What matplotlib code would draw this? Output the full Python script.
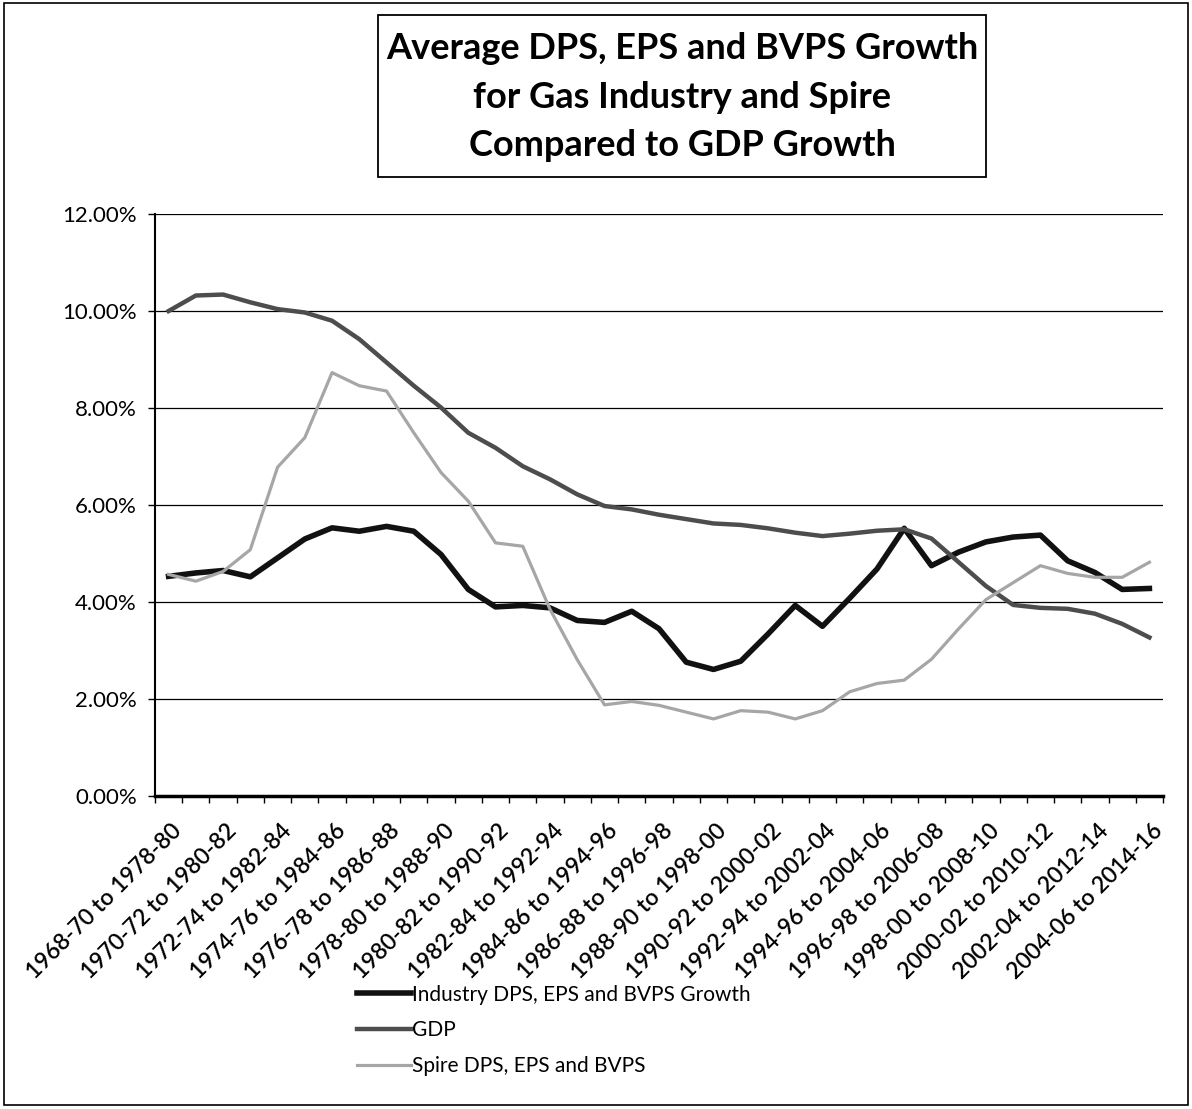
import numpy as np
import matplotlib
matplotlib.use('Agg')
import matplotlib.pyplot as plt
from matplotlib.patches import Rectangle

# 10年平均の期間ラベル（1968-70 to 1978-80 ... 2004-06 to 2014-16）
start_years = list(range(1968, 2005))
periods = [f"{y}-{(y + 2) % 100:02d} to {y + 10}-{(y + 12) % 100:02d}" for y in start_years]

industry = [4.53, 4.60, 4.65, 4.52, 4.91, 5.30, 5.53, 5.46, 5.56, 5.46,
            4.98, 4.26, 3.90, 3.93, 3.88, 3.62, 3.58, 3.81, 3.45, 2.76,
            2.61, 2.78, 3.34, 3.93, 3.50, 4.08, 4.68, 5.52, 4.75, 5.03,
            5.24, 5.34, 5.38, 4.85, 4.61, 4.26, 4.28]

gdp = [10.00, 10.32, 10.34, 10.18, 10.04, 9.97, 9.80, 9.42, 8.94, 8.46,
       8.01, 7.49, 7.18, 6.80, 6.53, 6.22, 5.98, 5.91, 5.80, 5.71,
       5.62, 5.59, 5.52, 5.43, 5.36, 5.41, 5.47, 5.50, 5.31, 4.82,
       4.33, 3.94, 3.88, 3.86, 3.76, 3.55, 3.27]

spire = [4.57, 4.43, 4.63, 5.08, 6.78, 7.39, 8.73, 8.46, 8.35, 7.49,
         6.67, 6.08, 5.22, 5.15, 3.85, 2.81, 1.88, 1.95, 1.87, 1.73,
         1.59, 1.76, 1.73, 1.59, 1.76, 2.15, 2.32, 2.39, 2.82, 3.45,
         4.05, 4.40, 4.75, 4.59, 4.51, 4.51, 4.82]

FONT = 'Lato'


def main():
    fig = plt.figure(figsize=(11.92, 11.09), dpi=100)
    ax = fig.add_axes([0.130, 0.2822, 0.8457, 0.5248])

    x = np.arange(len(periods))
    ax.plot(x, industry, color='#111111', lw=4.0, solid_joinstyle='round',
            label='Industry DPS, EPS and BVPS Growth', zorder=3)
    ax.plot(x, gdp, color='#4d4d4d', lw=3.2, solid_joinstyle='round',
            label='GDP', zorder=4)
    ax.plot(x, spire, color='#a6a6a6', lw=2.3, solid_joinstyle='round',
            label='Spire DPS, EPS and BVPS', zorder=5)

    ax.set_xlim(-0.5, len(periods) - 0.5)
    ax.set_ylim(0, 12)
    ax.set_yticks(np.arange(0, 12.01, 2))
    ax.set_yticklabels([f"{v:.2f}%" for v in np.arange(0, 12.01, 2)],
                       fontsize=16, family=FONT)
    ax.yaxis.grid(True, color='black', lw=0.9)
    ax.set_axisbelow(True)

    # 目盛りはカテゴリ境界、ラベルは1つおき
    ax.set_xticks(np.arange(-0.5, len(periods), 1.0))
    ax.set_xticklabels([])
    ax.tick_params(axis='x', length=5, width=1, direction='out')
    ax.tick_params(axis='y', length=5, width=1, direction='out', pad=8)
    for i in range(0, len(periods), 2):
        ax.text(i + 0.1, -0.5, periods[i], rotation=45, ha='right', va='top',
                rotation_mode='anchor', fontsize=16.5, fontweight='semibold',
                family=FONT, transform=ax.transData)

    for side in ['top', 'right']:
        ax.spines[side].set_visible(False)
    ax.spines['left'].set_linewidth(1.5)
    ax.spines['bottom'].set_linewidth(2.5)

    fig.legend(loc='upper left', bbox_to_anchor=(0.284, 0.129),
               frameon=False, handlelength=2.6, handletextpad=0.05,
               labelspacing=0.75, prop={'family': FONT, 'size': 15})

    # タイトル枠
    fig.patches.append(Rectangle((0.3171, 0.8404), 0.5101, 0.1461,
                                 transform=fig.transFigure, fill=True,
                                 fc='white', ec='black', lw=1.3))
    fig.text(0.5722, 0.9125,
             'Average DPS, EPS and BVPS Growth\nfor Gas Industry and Spire\nCompared to GDP Growth',
             ha='center', va='center', fontsize=26, fontweight='bold',
             family=FONT, linespacing=1.58)

    fig.patches.append(Rectangle((0.003, 0.004), 0.994, 0.993, transform=fig.transFigure,
                                 fill=False, ec='black', lw=1.2))

    plt.savefig('out.png', dpi=100)
    plt.close()


if __name__ == "__main__":
    main()
